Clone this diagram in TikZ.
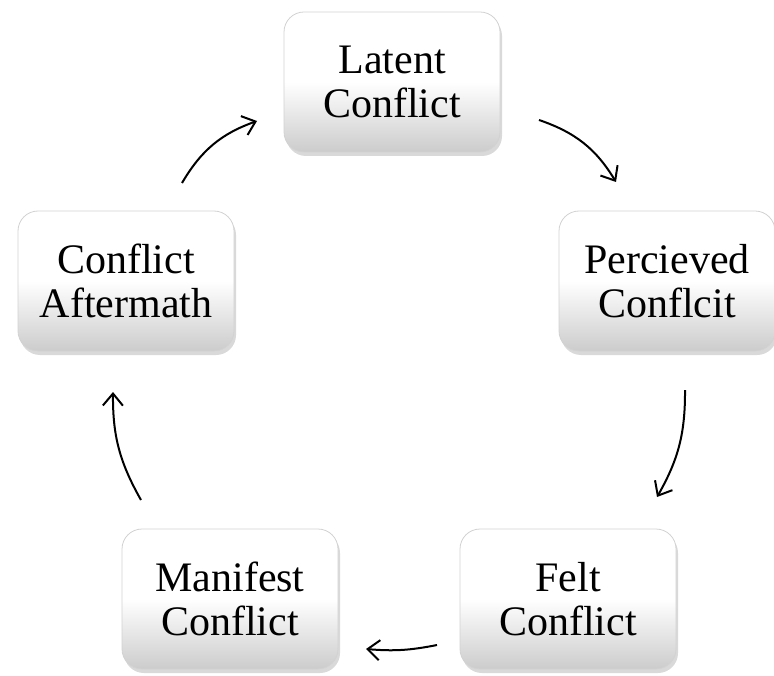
\documentclass[tikz,border=0pt]{standalone}
\usepackage{fontspec}
\setmainfont{Liberation Serif}
\usetikzlibrary{arrows.meta,shadows}

\begin{document}
\begin{tikzpicture}
    [
        x=0.5pt, y=0.5pt,
        stage/.style={rectangle, rounded corners=10pt, minimum width=108pt, minimum height=70pt,
            draw=gray!35, top color=white, bottom color=gray!40, middle color=white,
            drop shadow={opacity=0.3, shadow xshift=1pt, shadow yshift=-2pt},
            align=center, font=\fontsize{21}{22}\selectfont,},
        edge/.style={-{Straight Barb[length=6pt,width=10pt]}, line width=1pt,},
    ]
    \useasboundingbox (0,0) rectangle (774,675);

    % stages of the conflict cycle
    \node (lat) at (392,593)  [stage] {Latent\\Conflict};
    \node (per) at (667,394)  [stage] {Percieved\\Conflcit};
    \node (fel) at (568,76)   [stage] {Felt\\Conflict};
    \node (man) at (230,76)   [stage] {Manifest\\Conflict};
    \node (aft) at (126,394)  [stage] {Conflict\\Aftermath};

    % arrow ends
    \coordinate (lat-out) at (539,555);
    \coordinate (per-in)  at (616,493);
    \coordinate (per-out) at (685,285);
    \coordinate (fel-in)  at (657,178);
    \coordinate (fel-out) at (437,30);
    \coordinate (man-in)  at (366,26);
    \coordinate (man-out) at (141,175);
    \coordinate (aft-in)  at (113,283);
    \coordinate (aft-out) at (182,492);
    \coordinate (lat-in)  at (257,554);

    \draw [edge] (lat-out) to [bend left=20] (per-in);
    \draw [edge] (per-out) to [bend left=15] (fel-in);
    \draw [edge] (fel-out) to [bend left=8]  (man-in);
    \draw [edge] (man-out) to [bend left=15] (aft-in);
    \draw [edge] (aft-out) to [bend left=20] (lat-in);

\end{tikzpicture}
\end{document}
